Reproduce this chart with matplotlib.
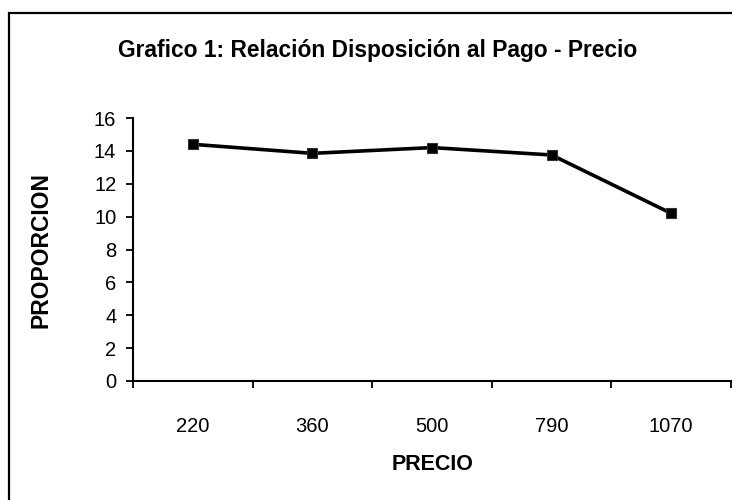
import matplotlib
matplotlib.use("Agg")
import matplotlib.pyplot as plt
from matplotlib.patches import Rectangle

categories = ["220", "360", "500", "790", "1070"]
proporcion = [14.4, 13.85, 14.2, 13.75, 10.2]
yticks = [0, 2, 4, 6, 8, 10, 12, 14, 16]

plt.rcParams['font.family'] = ['Liberation Sans', 'DejaVu Sans']

W, H = 732, 500
fig = plt.figure(figsize=(W / 100, H / 100), dpi=100)
fig.patch.set_facecolor('white')

# outer frame (clipped at right/bottom like the reference)
fig.patches.append(Rectangle((9 / W, -0.2), 2.0, (H - 13) / H + 0.2,
                             transform=fig.transFigure, fill=False,
                             edgecolor='black', linewidth=1.6, zorder=0))

ax = fig.add_axes([133 / W, (H - 381) / H, 598 / W, 263 / H])
x = list(range(len(categories)))
ax.plot(x, proporcion, color='black', linewidth=2.6, marker='s',
        markersize=6.5, markerfacecolor='black', markeredgecolor='#333333',
        markeredgewidth=0.8, clip_on=False, zorder=3)

ax.set_xlim(-0.5, len(categories) - 0.5)
ax.set_ylim(0, 16)
ax.set_yticks(yticks)
ax.set_yticklabels([str(v) for v in yticks], fontsize=14.5)
ax.set_xticks([i + 0.5 for i in range(-1, len(categories))])
ax.set_xticklabels([])
ax.set_xticks(x, minor=True)
ax.set_xticklabels(categories, minor=True, fontsize=14.5)
ax.tick_params(axis='x', which='minor', length=0, pad=26)
ax.tick_params(axis='x', which='major', length=5, width=1.3, direction='out')
ax.tick_params(axis='y', length=5, width=1.3, direction='out', pad=7)

for s in ['top', 'right']:
    ax.spines[s].set_visible(False)
for s in ['left', 'bottom']:
    ax.spines[s].set_linewidth(1.5)

fig.text(377.5 / W, 1 - 50 / H, "Grafico 1: Relación Disposición al Pago - Precio",
         ha='center', va='center', fontsize=16.4, fontweight='bold')
fig.text(433 / W, 1 - 465 / H, "PRECIO", ha='center', va='center',
         fontsize=15.5, fontweight='bold')
fig.text(41 / W, 1 - 250 / H, "PROPORCION", ha='center', va='center',
         rotation=90, fontsize=16.5, fontweight='bold')

fig.savefig("out.png", dpi=100, facecolor='white')
